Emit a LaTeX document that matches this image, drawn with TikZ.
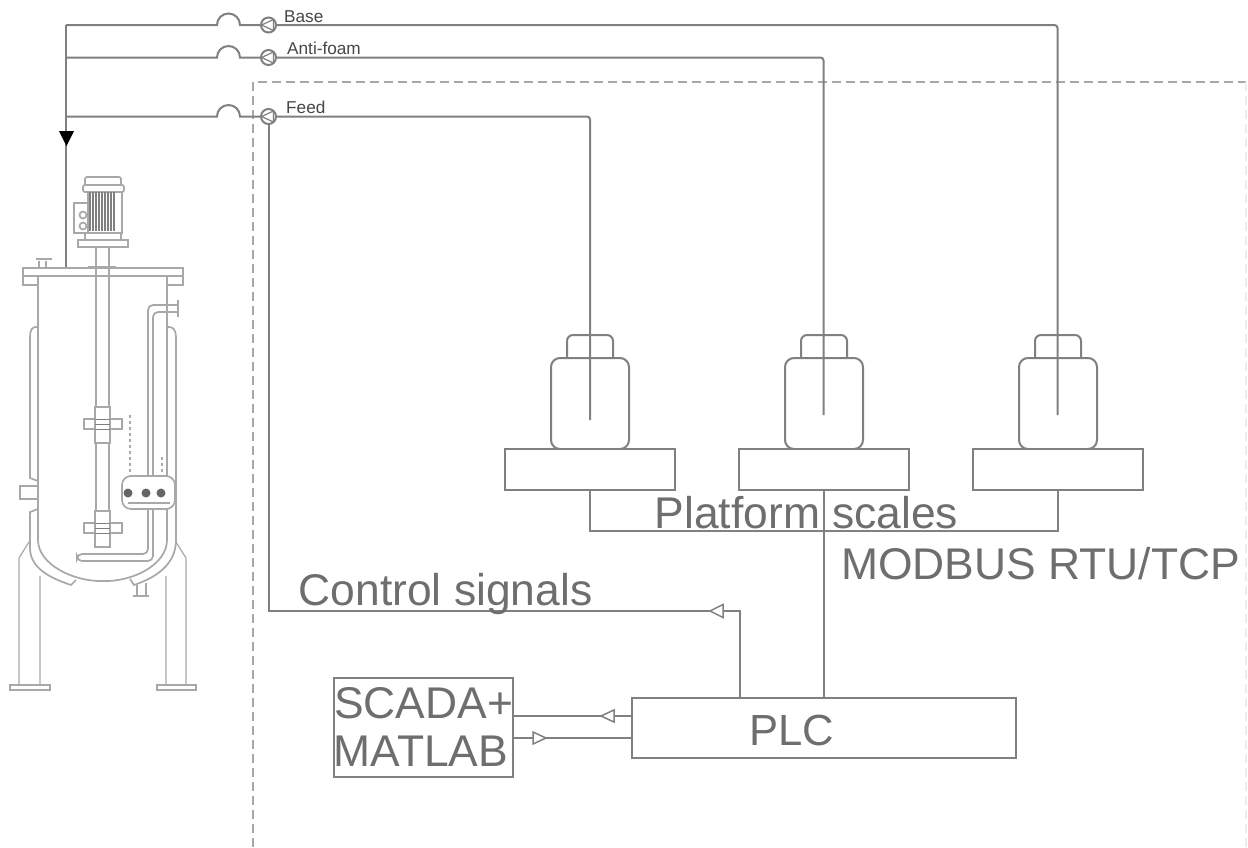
\documentclass[tikz,border=0pt]{standalone}
\usepackage{fontspec}
\setmainfont{Liberation Sans}
\definecolor{ln}{HTML}{808080}
\definecolor{vs}{HTML}{A8A8A8}
\definecolor{tx}{HTML}{6E6E6E}
\tikzset{
  pipe/.style={draw=ln,line width=2pt},
  frame/.style={draw=vs,line width=1.2pt,dash pattern=on 9pt off 5pt},
  fadeframe/.style={draw=black!7,line width=1.2pt,dash pattern=on 9pt off 5pt},
  vline/.style={draw=vs,line width=1.7pt},
  vfine/.style={draw=vs,line width=1.2pt},
  boxn/.style={draw=ln,line width=2pt,inner sep=0pt,fill=white},
  scalebox/.style={boxn,minimum width=170pt,minimum height=41pt},
  pumpn/.style={circle,draw=ln,line width=2pt,minimum size=15pt,inner sep=0pt,fill=white},
  small/.style={text=black!72,font=\fontsize{17.2}{17.2}\selectfont,inner sep=0pt,anchor=base west},
  big/.style={text=tx,font=\fontsize{44.4}{48}\selectfont,inner sep=0pt,anchor=base west},
  hollow/.style={draw=ln,line width=1.5pt,fill=white,line join=miter},
}
\begin{document}
\begin{tikzpicture}[x=1pt,y=-1pt]
\useasboundingbox (0,0) rectangle (1248,847);
\fill[white] (0,0) rectangle (1248,847);
% frame
\draw[frame] (253,847) -- (253,82) -- (1246,82);
\draw[fadeframe] (1246,82) -- (1246,847);
% bottles
\foreach \n/\x in {a/590,b/824,c/1058}{
  \draw[pipe,rounded corners=6pt] (\x-23,358) -- (\x-23,335) -- (\x+23,335) -- (\x+23,358);
  \draw[pipe,rounded corners=9pt] (\x-39,358) rectangle (\x+39,449);
}
% scales and blocks
\node[scalebox] (sa) at (590,469.5) {};
\node[scalebox] (sb) at (824,469.5) {};
\node[scalebox] (sc) at (1057.5,469.5) {};
\node[boxn,minimum width=384pt,minimum height=60pt] (plc) at (824,728) {};
\node[text=tx,font=\fontsize{43.6}{43.6}\selectfont,inner sep=0pt,anchor=base] (plctext) at (791.5,745) {PLC};
\node[boxn,minimum width=179pt,minimum height=99pt] (scada) at (423.5,727.5) {};
\node[big] (t1) at (334,718) {SCADA+};
\node[big] (t2) at (333.5,766) {MATLAB};
% pumps
\node[pumpn] (pb) at (268.5,25) {};
\node[pumpn] (pa) at (268.5,57.5) {};
\node[pumpn] (pf) at (268.5,116.5) {};
\foreach \p in {pb,pa,pf}{
  \draw[ln,line width=1.2pt] ([xshift=-7pt]\p.center) -- ([xshift=5pt,yshift=-5.5pt]\p.center) -- ([xshift=5pt,yshift=5.5pt]\p.center) -- cycle;
}
% coordinates
\coordinate (top) at (66,25);
\coordinate (ma) at (66,57.5);
\coordinate (mf) at (66,116.5);
\coordinate (vin) at (66,268);
\coordinate (ea) at (590,420);
\coordinate (eb) at (823.5,415);
\coordinate (ec) at (1057.5,415);
% lines
\draw[pipe] (top) -- (217,25) arc[start angle=180,end angle=360,radius=11.5] -- (pb.west);
\draw[pipe] (ma) -- (217,57.5) arc[start angle=180,end angle=360,radius=11.5] -- (pa.west);
\draw[pipe] (mf) -- (217,116.5) arc[start angle=180,end angle=360,radius=11.5] -- (pf.west);
\draw[pipe] (top) -- (vin);
\draw[pipe,rounded corners=3pt] (pb.east) -- (1057.5,25) -- (ec);
\draw[pipe,rounded corners=3pt] (pa.east) -- (823.5,57.5) -- (eb);
\draw[pipe,rounded corners=3pt] (pf.east) -- (590,116.5) -- (ea);
\draw[pipe] (pf.south) -- (268.5,611) -- (740,611) -- (740,698);
\draw[pipe] (590,490) -- (590,531) -- (1057.5,531) -- (1057.5,490);
\draw[pipe] (sb.south) -- (824,698);
\draw[pipe] (scada.east |- 0,716) -- (plc.west |- 0,716);
\draw[pipe] (scada.east |- 0,738) -- (plc.west |- 0,738);
% arrowheads
\draw[hollow] (710,611) -- (723,604.5) -- (723,617.5) -- cycle;
\draw[hollow] (601,716) -- (614,710) -- (614,722) -- cycle;
\draw[hollow] (546,738) -- (533,732) -- (533,744) -- cycle;
\fill[black] (59,131) -- (74,131) -- (66.5,146) -- cycle;
% labels
\node[small] (lb) at (284,22) {Base};
\node[small] (la) at (287,54) {Anti-foam};
\node[small] (lf) at (286,113) {Feed};
\node[big] (lp) at (654.5,528) {Platform scales};
\node[big] (lm) at (841,579) {MODBUS RTU/TCP};
\node[big] (lc) at (298.5,605) {Control signals};
% --- vessel ---
% flange
\draw[vline] (23,268) rectangle (183,276);
\draw[vline] (23,276) -- (23,285) -- (38,285);
\draw[vline] (183,276) -- (183,285) -- (167,285);
% vessel wall
\draw[vline] (38,276) -- (38,540) .. controls (38,565) and (75,582) .. (103,581) .. controls (132,582) and (167,565) .. (167,540) -- (167,276);
% jacket
\draw[vline] (38,327) .. controls (32,326) and (30,330) .. (30,337) -- (30,478) -- (38,481);
\draw[vline] (38,509) -- (30,512) -- (30,548) .. controls (30,568) and (50,578) .. (71,585) -- (76,580);
\draw[vline] (167,327) .. controls (173,326) and (176,330) .. (176,337) -- (176,540) .. controls (176,565) and (155,578) .. (134,585) -- (130,579);
% side port
\draw[vline] (38,486) -- (20,486) -- (20,499) -- (38,499);
% top nozzle
\draw[vline] (39,268) -- (39,261) (46,268) -- (46,261);
\draw[vline] (36,259) -- (52,259);
% bottom nozzle
\draw[vline] (137,585) -- (137,595) (146,583) -- (146,595);
\draw[vline] (133,596) -- (149,596);
% legs
\draw[vfine] (29,542) -- (19,558) -- (19,685) (40,576) -- (40,685);
\draw[vfine] (176,542) -- (186,558) -- (186,685) (166,576) -- (166,685);
\draw[vline] (10,685) rectangle (50,690);
\draw[vline] (157,685) rectangle (196,690);
% coil
\draw[vline,rounded corners=5pt] (178,305) -- (148,305) -- (148,554) -- (77,554) -- (77,561) -- (153,561) -- (153,312) -- (178,312);
\draw[vline] (178,300) -- (178,317);
% sensor block
\draw[vline,fill=white,rounded corners=9pt] (122,476) rectangle (175,509);
\draw[vfine] (128,503) -- (170,503);
\foreach \x in {128,146,161}{\fill[black!60] (\x,493) circle[radius=4.5pt];}
\draw[vfine,dashed] (130,415) -- (130,476);
\draw[vfine,dashed] (162,457) -- (162,476);
% shaft
\draw[vline] (96,248) -- (96,407) (109,248) -- (109,407);
\draw[vline] (96,442) -- (96,512) (109,442) -- (109,512);
\foreach \y in {424,528}{
  \draw[vline,fill=white] (84,\y-5) rectangle (122,\y+5);
  \draw[vline,fill=white] (95,\y-17) rectangle (110,\y+19);
  \draw[ln,line width=.9pt] (95,\y) -- (110,\y);
  \draw[ln,line width=.9pt] (95,\y-5) -- (110,\y-5) (95,\y+5) -- (110,\y+5);
}
\draw[vline] (88,267) -- (116,267);
% motor
\draw[vline,rounded corners=2pt] (85,185) -- (85,177) -- (121,177) -- (121,185);
\draw[vline,rounded corners=2pt] (83,185) rectangle (124,192);
\draw[vline] (88,192) rectangle (122,233);
\foreach \x in {90,93,96,99,102,105,108,111,114}{\draw[ln,line width=1.1pt] (\x,192) -- (\x,231);}
\draw[vline] (88,203) -- (74,203) -- (74,233) -- (88,233);
\draw[vline] (83,215) circle[radius=3.5pt] (83,226) circle[radius=3.5pt];
\draw[vline] (85,233) rectangle (121,240);
\draw[vline] (78,240) rectangle (128,247);
\end{tikzpicture}
\end{document}
